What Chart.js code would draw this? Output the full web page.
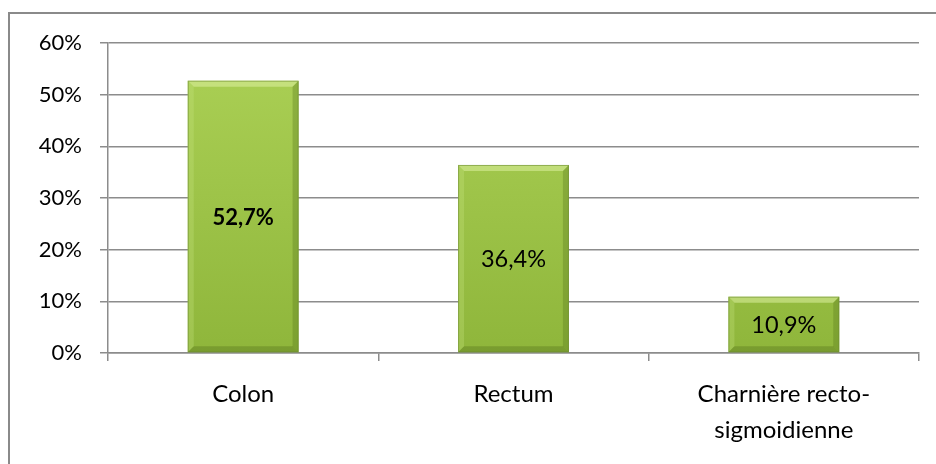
<!DOCTYPE html>
<html>
<head>
<meta charset="utf-8">
<script src="https://cdn.jsdelivr.net/npm/chart.js@4"></script>
<style>
  html, body { margin: 0; padding: 0; background: #fff; }
  #wrap { position: relative; width: 936px; height: 464px; overflow: hidden; }
  #frame { position: absolute; left: 8px; top: 12px; width: 940px; height: 470px;
           border: 2px solid #8a8a8a; box-sizing: border-box; }
  canvas { position: absolute; left: 0; top: 0; }
</style>
</head>
<body>
<div id="wrap">
  <div id="frame"></div>
  <canvas id="chart" width="936" height="464"></canvas>
</div>
<script>
const categories = ['Colon', 'Rectum', ['Charnière recto-', 'sigmoidienne']];
const values = [52.7, 36.4, 10.9];
const valueLabels = ['52,7%', '36,4%', '10,9%'];
const boldLabel = [true, false, false];
const yTicks = [0, 10, 20, 30, 40, 50, 60];

// green bar with soft vertical gradient
function barFill(ctx) {
  const area = ctx.chart.chartArea;
  if (!area) return '#9cc246';
  const g = ctx.chart.ctx.createLinearGradient(0, area.top, 0, area.bottom);
  g.addColorStop(0, '#acd156');
  g.addColorStop(1, '#8fb63b');
  return g;
}

// bevel edges and value labels on each bar
const bevelPlugin = {
  id: 'bevel',
  afterDatasetsDraw(chart) {
    const c = chart.ctx;
    const meta = chart.getDatasetMeta(0);
    meta.data.forEach((bar, i) => {
      const l = bar.x - bar.width / 2, r = bar.x + bar.width / 2;
      const t = bar.y, b = bar.base, s = 6;
      c.save();
      // top highlight
      c.fillStyle = 'rgba(220,240,160,0.55)';
      c.beginPath();
      c.moveTo(l, t); c.lineTo(r, t); c.lineTo(r - s, t + s); c.lineTo(l + s, t + s);
      c.closePath(); c.fill();
      // left side
      c.fillStyle = 'rgba(200,230,130,0.3)';
      c.beginPath();
      c.moveTo(l, t); c.lineTo(l + s, t + s); c.lineTo(l + s, b - s); c.lineTo(l, b);
      c.closePath(); c.fill();
      // right side
      c.fillStyle = 'rgba(90,120,30,0.35)';
      c.beginPath();
      c.moveTo(r, t); c.lineTo(r - s, t + s); c.lineTo(r - s, b - s); c.lineTo(r, b);
      c.closePath(); c.fill();
      // bottom shade
      c.fillStyle = 'rgba(80,110,25,0.35)';
      c.beginPath();
      c.moveTo(l, b); c.lineTo(r, b); c.lineTo(r - s, b - s); c.lineTo(l + s, b - s);
      c.closePath(); c.fill();
      // outline
      c.strokeStyle = 'rgba(110,140,50,0.6)';
      c.lineWidth = 1;
      c.strokeRect(l + 0.5, t + 0.5, r - l - 1, b - t - 1);
      // value label
      c.fillStyle = '#000';
      c.font = (boldLabel[i] ? 'bold 22px' : '23.5px') + ' Lato';
      c.textAlign = 'center';
      c.textBaseline = 'middle';
      c.fillText(valueLabels[i], bar.x, (t + b) / 2 + 1);
      c.restore();
    });
  }
};

new Chart(document.getElementById('chart'), {
  type: 'bar',
  data: {
    labels: categories,
    datasets: [{
      data: values,
      backgroundColor: barFill,
      borderWidth: 0,
      categoryPercentage: 1,
      barPercentage: 0.41
    }]
  },
  options: {
    responsive: false,
    animation: false,
    layout: { padding: { left: 8, top: 43, right: 17, bottom: 0 } },
    plugins: {
      legend: { display: false },
      tooltip: { enabled: false }
    },
    scales: {
      y: {
        min: 0,
        max: 60,
        afterFit(scale) { scale.width = 100; },
        afterBuildTicks(scale) { scale.ticks = yTicks.map(v => ({ value: v })); },
        ticks: {
          color: '#000',
          font: { family: 'Lato', size: 22 },
          padding: 18,
          callback: v => v + '%'
        },
        grid: { color: '#8c8c8c', lineWidth: 1.5, tickLength: 8, drawTicks: true },
        border: { color: '#8c8c8c', width: 1.5 }
      },
      x: {
        afterFit(scale) { scale.height = 111; },
        ticks: {
          color: '#000',
          font: { family: 'Lato', size: 24, lineHeight: 1.5 },
          padding: 15,
          maxRotation: 0
        },
        grid: { offset: true, display: true, drawOnChartArea: false, color: '#8c8c8c', lineWidth: 1.5, tickLength: 8 },
        border: { color: '#8c8c8c', width: 1.5 }
      }
    }
  },
  plugins: [bevelPlugin]
});
</script>
</body>
</html>
